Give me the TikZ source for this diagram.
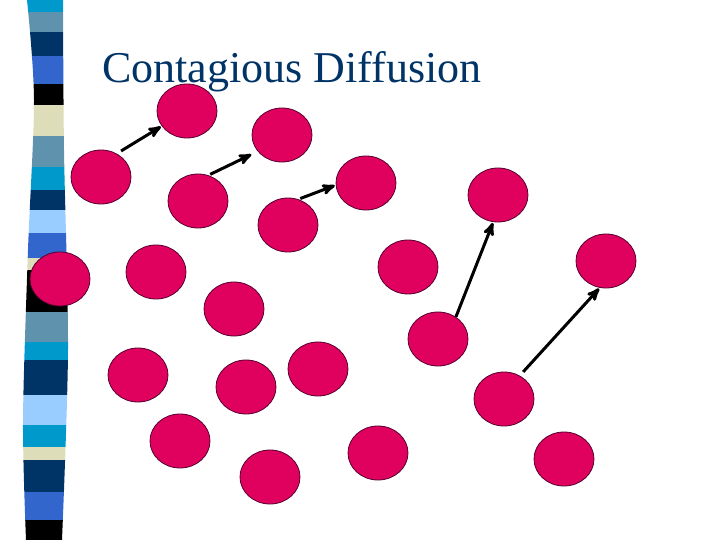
\documentclass[tikz,border=0pt]{standalone}
\usepackage{fontspec}
\setmainfont{Liberation Serif}
\usepackage{tikz}
\usetikzlibrary{arrows,shapes.geometric}

\definecolor{titleblue}{HTML}{003366}
\definecolor{dotred}{HTML}{E0005E}
\definecolor{dotline}{HTML}{550030}
\definecolor{barcyan}{HTML}{0099CC}
\definecolor{barsteel}{HTML}{5F93AD}
\definecolor{barnavy}{HTML}{003366}
\definecolor{barroyal}{HTML}{3366CC}
\definecolor{barbeige}{HTML}{DDDDB9}
\definecolor{barlight}{HTML}{99CCFF}

\begin{document}
\begin{tikzpicture}[>=stealth',shorten >=1pt,x=1pt,y=-1pt,
                    dot/.style={ellipse,draw=dotline,fill=dotred,line width=0.8pt,
                                minimum width=60pt,minimum height=54pt,inner sep=0pt},
                    spread/.style={->,line width=3pt}]
  \useasboundingbox (0,0) rectangle (720,540);

  % striped bar on the left
  \begin{scope}
    \clip plot[smooth] coordinates {(27,0) (34,100) (28,250) (23,420) (26,540)}
          -- plot[smooth] coordinates {(62,540) (68,350) (64,150) (63,0)} -- cycle;
    \foreach \ya/\yb/\col in {0/12/barcyan, 12/32/barsteel, 32/56/barnavy,
        56/84/barroyal, 84/105/black, 105/136/barbeige, 136/167/barsteel,
        167/190/barcyan, 190/210/barnavy, 210/233/barlight, 233/258/barroyal,
        258/270/barbeige, 270/312/black, 312/342/barsteel, 342/360/barcyan,
        360/395/barnavy, 395/425/barlight, 425/447/barcyan, 447/460/barbeige,
        460/492/barnavy, 492/520/barroyal, 520/540/black}
      \fill[\col] (0,\ya) rectangle (100,\yb);
  \end{scope}

  \node[anchor=base west,inner sep=0pt,text=titleblue,
        font=\fontsize{44}{52}\selectfont] (title) at (102,83) {Contagious Diffusion};

  \node[dot] (c1)  at (187,111) {};
  \node[dot] (c2)  at (101,177) {};
  \node[dot] (c3)  at (282,135) {};
  \node[dot] (c4)  at (198,201) {};
  \node[dot] (c5)  at (366,183) {};
  \node[dot] (c6)  at (288,225) {};
  \node[dot] (c7)  at (498,195) {};
  \node[dot] (c8)  at (60,279)  {};
  \node[dot] (c9)  at (156,272) {};
  \node[dot] (c10) at (408,267) {};
  \node[dot] (c11) at (606,261) {};
  \node[dot] (c12) at (234,309) {};
  \node[dot] (c13) at (438,339) {};
  \node[dot] (c14) at (138,375) {};
  \node[dot] (c15) at (318,369) {};
  \node[dot] (c16) at (246,387) {};
  \node[dot] (c17) at (504,399) {};
  \node[dot] (c18) at (180,441) {};
  \node[dot] (c19) at (378,453) {};
  \node[dot] (c20) at (270,477) {};
  \node[dot] (c21) at (564,459) {};

  \path[spread] (c2.56)  edge [shorten <=5pt]                (c1.211)
                (c4.68)  edge [shorten <=2pt, shorten >=7pt] (c3.214)
                (c6.68)  edge [shorten <=2pt]                (c5.184)
                (c13.51) edge                                (c7.260)
                (c17.56) edge [shorten <=5pt]                (c11.257)
;
\end{tikzpicture}
\end{document}
